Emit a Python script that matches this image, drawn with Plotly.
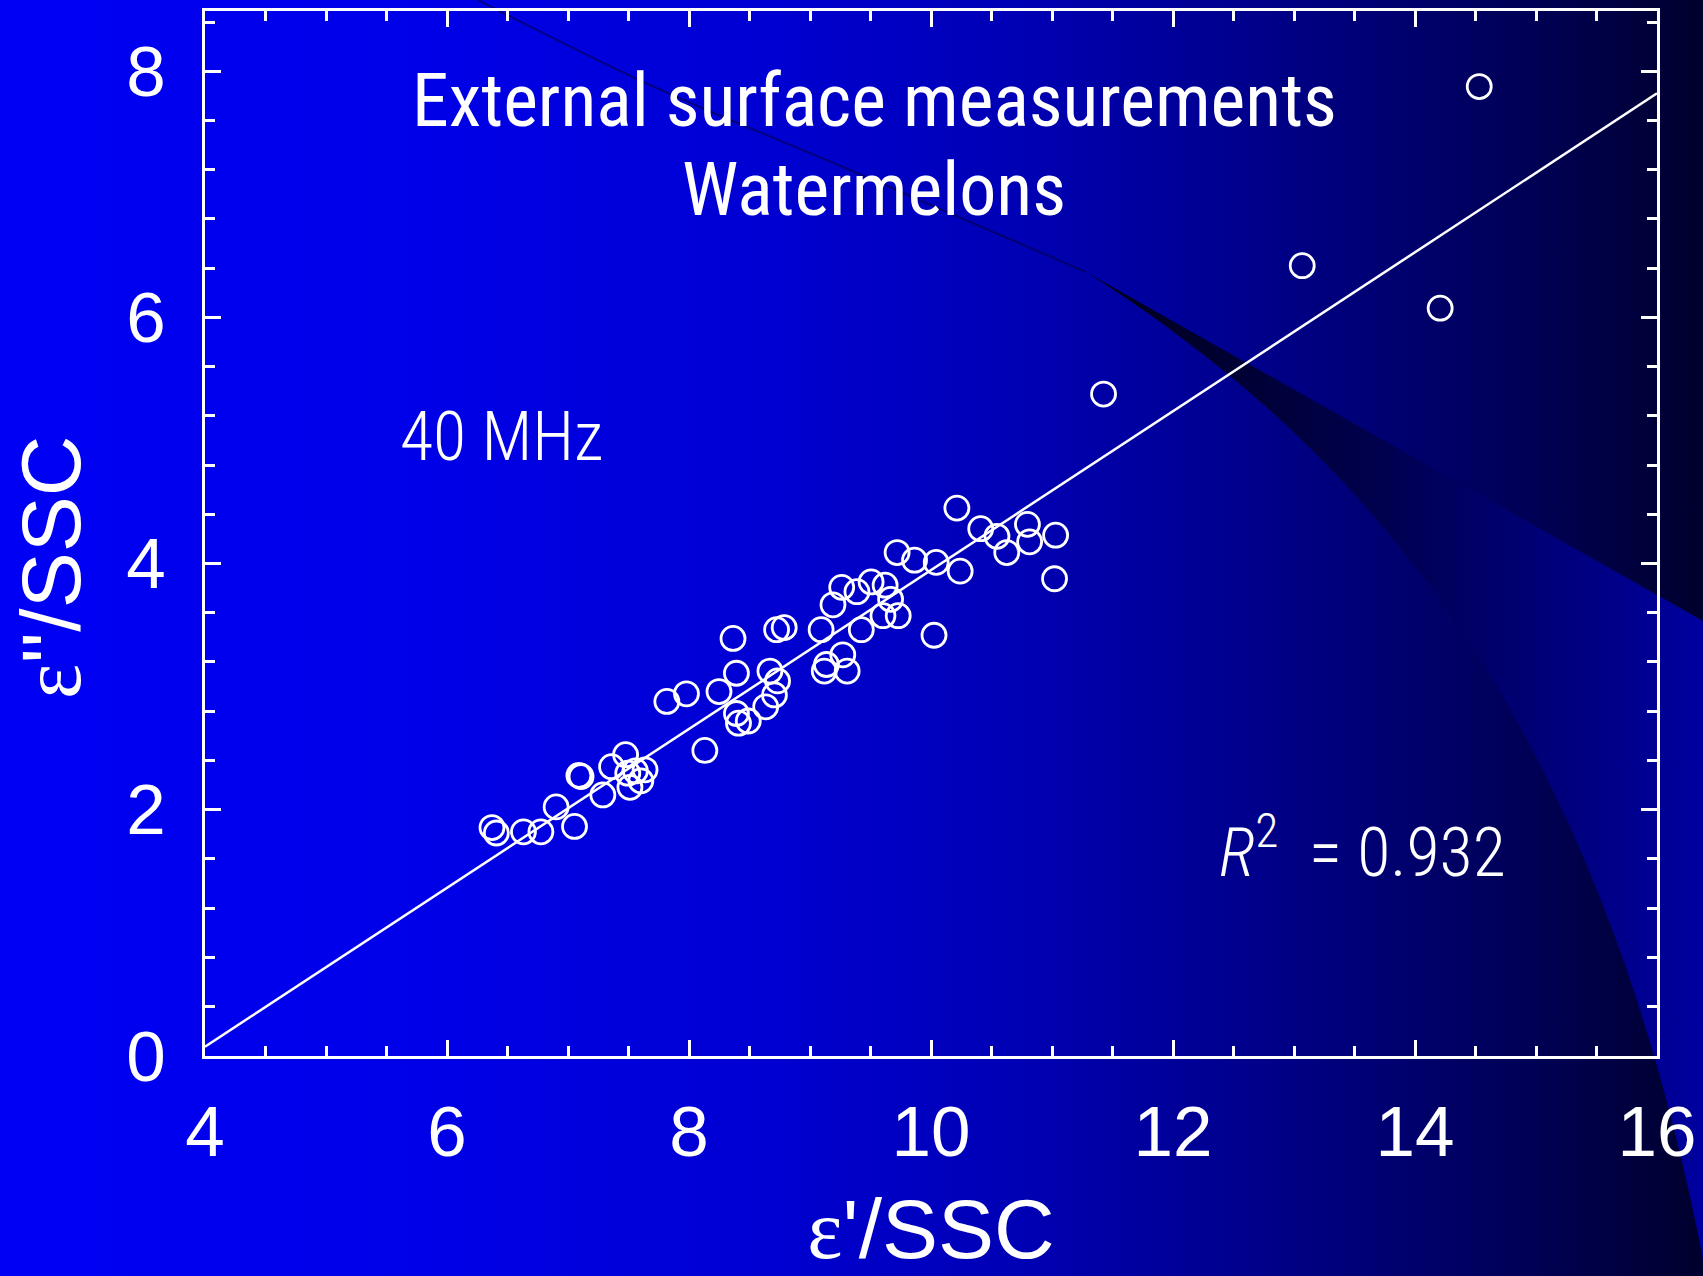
import numpy as np
import plotly.graph_objects as go

# ---------------- data ----------------
eps_real_ssc = [6.372, 6.408, 6.632, 6.776, 6.902, 7.054, 7.090, 7.108, 7.288, 7.360,
                7.476, 7.494, 7.512, 7.557, 7.602, 7.637, 7.817, 7.979, 8.131, 8.248,
                8.364, 8.392, 8.392, 8.409, 8.490, 8.634, 8.669, 8.706, 8.732, 8.724,
                8.787, 9.092, 9.118, 9.136, 9.190, 9.262, 9.271, 9.307, 9.388, 9.424,
                9.505, 9.603, 9.621, 9.666, 9.720, 9.729, 9.864, 10.025, 10.043, 10.214,
                10.241, 10.411, 10.545, 10.626, 10.797, 10.815, 11.030, 11.021, 11.426, 13.068,
                14.208, 14.531]
eps_imag_ssc = [1.854, 1.810, 1.819, 1.819, 2.022, 1.863, 2.278, 2.269, 2.119, 2.349,
                2.446, 2.296, 2.181, 2.314, 2.234, 2.323, 2.879, 2.941, 2.481, 2.959,
                3.391, 3.108, 2.781, 2.702, 2.720, 2.835, 3.126, 2.932, 3.046, 3.462,
                3.479, 3.462, 3.126, 3.179, 3.664, 3.806, 3.258, 3.126, 3.771, 3.462,
                3.850, 3.576, 3.824, 3.709, 4.089, 3.576, 4.027, 3.417, 4.009, 4.450,
                3.938, 4.283, 4.221, 4.089, 4.318, 4.176, 4.230, 3.876, 5.377, 6.420,
                6.075, 7.876]

fit_slope = 0.6456
fit_intercept = -2.509
fit_x = [4, 16]

x_tick_vals = [4, 6, 8, 10, 12, 14, 16]
y_tick_vals = [0, 2, 4, 6, 8]

title_line1 = "External surface measurements"
title_line2 = "Watermelons"
freq_label = "40 MHz"
r2_value = "0.932"
x_title = "<span style=\"font-family:Liberation Serif, serif\">ε</span>'/SSC"
y_title = "<span style=\"font-family:Liberation Serif, serif\">ε</span>''/SSC"

# ---------------- figure ----------------
W, H = 1703, 1276
WHITE = "#ffffff"

fig = go.Figure()

# decorative slide background, drawn on a full-page pixel axis pair (x / y)
bg_scale = [[0.0, "rgb(0,0,245)"], [0.25, "rgb(0,0,232)"], [0.45, "rgb(0,0,210)"],
            [0.6, "rgb(0,0,180)"], [0.75, "rgb(0,0,135)"], [0.9, "rgb(0,0,85)"],
            [1.0, "rgb(0,0,45)"]]
fig.add_trace(go.Scatter(
    x=[-5, W + 5, W + 5, -5, -5], y=[-5, -5, H + 5, H + 5, -5], xaxis="x", yaxis="y",
    mode="none", fill="toself",
    fillgradient=dict(type="horizontal", colorscale=bg_scale, start=0, stop=W),
    hoverinfo="skip", showlegend=False))


def bezier(p0, p1, p2, p3, n=40):
    t = np.linspace(0, 1, n)[:, None]
    pts = ((1 - t) ** 3) * np.array(p0) + 3 * ((1 - t) ** 2) * t * np.array(p1) \
        + 3 * (1 - t) * (t ** 2) * np.array(p2) + (t ** 3) * np.array(p3)
    return pts[:, 0].tolist(), pts[:, 1].tolist()


# lighter swoosh on the right: straight upper edge, sweeping lower arc
apex = (1086, 272)
arc_x, arc_y = bezier(apex, (1350, 440), (1600, 700), (1708, 1285))
swoosh_x = [apex[0], 1710, 1710] + arc_x[::-1]
swoosh_y = [apex[1], 625, 1285] + arc_y[::-1]
fig.add_trace(go.Scatter(
    x=swoosh_x, y=swoosh_y, xaxis="x", yaxis="y", mode="none", fill="toself",
    fillgradient=dict(type="horizontal",
                      colorscale=[[0, "rgb(0,0,25)"], [0.45, "rgb(0,0,75)"], [1, "rgb(0,0,160)"]],
                      start=apex[0], stop=W),
    hoverinfo="skip", showlegend=False))

# thin dark line from the top
fig.add_trace(go.Scatter(
    x=[478, 650, 850, 1086], y=[0, 85, 170, 272], xaxis="x", yaxis="y",
    mode="lines", line=dict(color="rgba(0,0,70,0.6)", width=2, shape="spline"),
    hoverinfo="skip", showlegend=False))

# ---------------- data traces on x2 / y2 ----------------
fig.add_trace(go.Scatter(
    x=fit_x, y=[fit_slope * v + fit_intercept for v in fit_x],
    xaxis="x2", yaxis="y2", mode="lines",
    line=dict(color=WHITE, width=2.5), showlegend=False, hoverinfo="skip"))

fig.add_trace(go.Scatter(
    x=eps_real_ssc, y=eps_imag_ssc, xaxis="x2", yaxis="y2", mode="markers",
    marker=dict(symbol="circle-open", size=24, color=WHITE, line=dict(color=WHITE, width=2.8)),
    showlegend=False, name="40 MHz"))

tick_font = dict(family="Liberation Sans, Arial, sans-serif", size=71, color=WHITE)
title_font = dict(family="Liberation Sans, Arial, sans-serif", size=84, color=WHITE)
narrow = "Roboto Condensed, Liberation Sans Narrow, Arial Narrow, sans-serif"

x0p, x1p = 205 / W, 1657 / W
y0p, y1p = (H - 1055.7) / H, (H - 11) / H

fig.update_layout(
    template="none",
    width=W, height=H,
    margin=dict(l=0, r=0, t=0, b=0, pad=0, autoexpand=False),
    paper_bgcolor="rgb(0,0,240)",
    plot_bgcolor="rgba(0,0,0,0)",
    showlegend=False,
    xaxis=dict(domain=[0, 1], range=[0, W], visible=False, fixedrange=True, automargin=False),
    yaxis=dict(domain=[0, 1], range=[H, 0], visible=False, fixedrange=True, automargin=False),
    xaxis2=dict(
        domain=[x0p, x1p], anchor="y2", range=[4, 16], automargin=False,
        tickvals=x_tick_vals, ticktext=[str(v) for v in x_tick_vals],
        showgrid=False, zeroline=False,
        showline=True, linecolor=WHITE, linewidth=3, mirror="ticks",
        ticks="inside", ticklen=16, tickwidth=2.5, tickcolor=WHITE,
        minor=dict(ticks="inside", ticklen=10, tickwidth=2.5, tickcolor=WHITE,
                   dtick=0.5, tick0=0, showgrid=False),
        tickfont=tick_font, ticklabelstandoff=12,
        title=dict(text=x_title, font=title_font, standoff=44),
    ),
    yaxis2=dict(
        domain=[y0p, y1p], anchor="x2", range=[0, 8.49], automargin=False,
        tickvals=y_tick_vals, ticktext=[str(v) for v in y_tick_vals],
        showgrid=False, zeroline=False,
        showline=True, linecolor=WHITE, linewidth=3, mirror="ticks",
        ticks="inside", ticklen=16, tickwidth=2.5, tickcolor=WHITE,
        minor=dict(ticks="inside", ticklen=10, tickwidth=2.5, tickcolor=WHITE,
                   dtick=0.4, tick0=0, showgrid=False),
        tickfont=tick_font, ticklabelstandoff=22,
    ),
    annotations=[
        dict(text=y_title, x=51 / W, y=(H - 568) / H, xref="paper", yref="paper",
             textangle=-90, showarrow=False, font=title_font,
             xanchor="center", yanchor="middle"),
        dict(text=title_line1, x=9.53, y=7.76, xref="x2", yref="y2", showarrow=False,
             font=dict(family=narrow, size=74, color=WHITE), xanchor="center", yanchor="middle"),
        dict(text=title_line2, x=9.53, y=7.04, xref="x2", yref="y2", showarrow=False,
             font=dict(family=narrow, size=74, color=WHITE), xanchor="center", yanchor="middle"),
        dict(text=freq_label, x=6.45, y=5.03, xref="x2", yref="y2", showarrow=False,
             font=dict(family=narrow, size=68, color=WHITE, weight=300),
             xanchor="center", yanchor="middle"),
        dict(text="<i>R</i><sup>2</sup>\u00a0\u00a0=\u00a0" + r2_value, x=13.57, y=1.69,
             xref="x2", yref="y2", showarrow=False,
             font=dict(family=narrow, size=68, color=WHITE, weight=300),
             xanchor="center", yanchor="middle"),
    ],
)

fig.write_html("out.html")
